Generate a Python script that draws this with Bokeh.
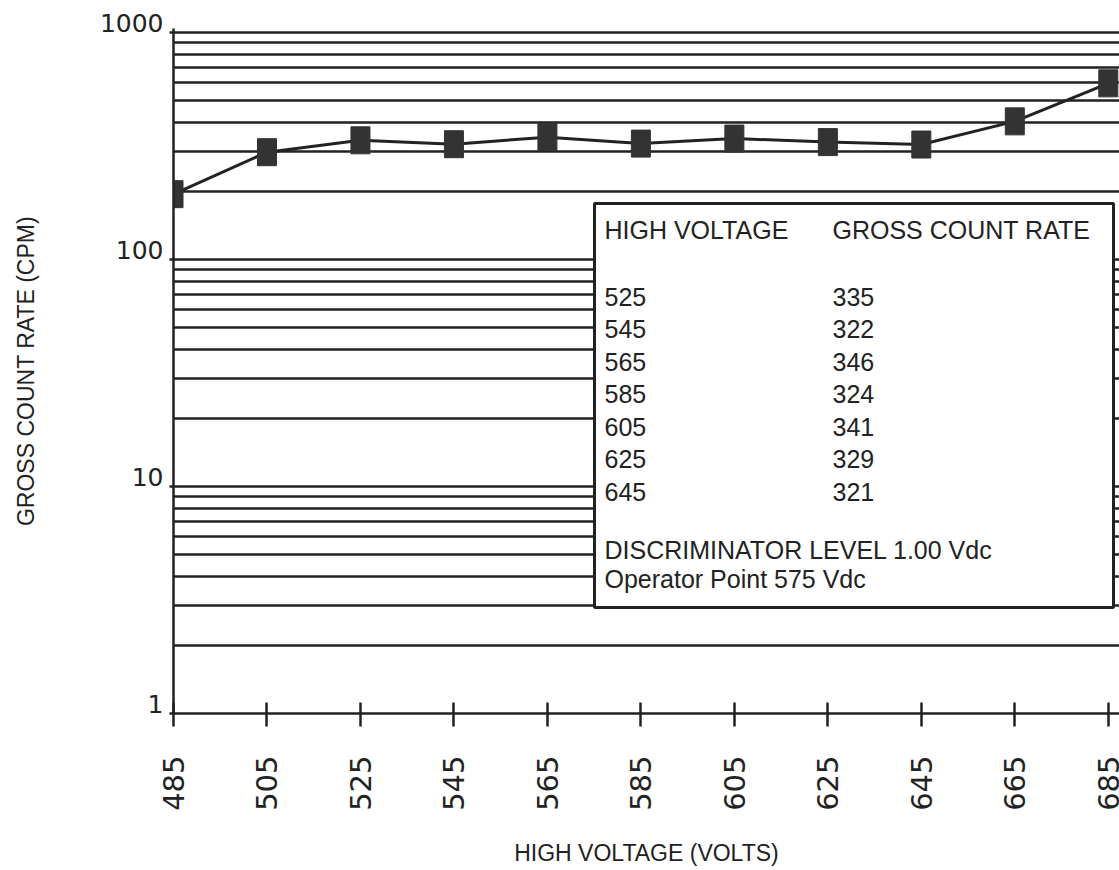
import math
from bokeh.plotting import figure
from bokeh.models import Range1d, FixedTicker, BoxAnnotation, ColumnDataSource
from bokeh.core.properties import value
from bokeh.embed import file_html
from bokeh.resources import INLINE

# ---- data ----
voltages = [485, 505, 525, 545, 565, 585, 605, 625, 645, 665, 685]
count_rates = [194, 297, 335, 322, 346, 324, 341, 329, 321, 406, 597]
table_voltages = [525, 545, 565, 585, 605, 625, 645]
table_rates = [335, 322, 346, 324, 341, 329, 321]
x_ticks = [485, 505, 525, 545, 565, 585, 605, 625, 645, 665, 685]
y_major = [1, 10, 100, 1000]
y_minor = [m * d for d in (1, 10, 100) for m in range(2, 10)]
header_left = "HIGH VOLTAGE"
header_right = "GROSS COUNT RATE"
note_lines = ["DISCRIMINATOR LEVEL 1.00 Vdc", "Operator Point 575 Vdc"]

FONT = "Liberation Sans"
TICKFONT = "DejaVu Sans"
INK = "#222222"

# geometry helpers (screen pixel -> data), frame: x 173..1119, y 28..713
PX_PER_DECADE = 227.0
PX_PER_VOLT = 946 / 202.4
def ydat(py):
    return 10 ** ((713 - py) / PX_PER_DECADE)
def xdat(px):
    return 485 + (px - 173) / PX_PER_VOLT

p = figure(
    y_axis_type="log",
    x_range=Range1d(485, 485 + 202.4),
    y_range=Range1d(1, 10 ** (3 + 4 / PX_PER_DECADE)),
    frame_width=946, frame_height=685,
    min_border_left=173, min_border_right=0, min_border_top=28, min_border_bottom=157,
    output_backend="svg", toolbar_location=None,
    background_fill_color="white", border_fill_color="white",
)
p.outline_line_color = None

# x axis
xa = p.xaxis[0]
xa.ticker = FixedTicker(ticks=x_ticks)
xa.axis_line_width = 2.5
xa.axis_line_color = INK
xa.major_tick_line_width = 2.5
xa.major_tick_line_color = INK
xa.major_tick_in = 11
xa.major_tick_out = 13
xa.minor_tick_line_color = None
xa.major_label_orientation = math.pi / 2
xa.major_label_text_font = TICKFONT
xa.major_label_text_font_size = "29px"
xa.major_label_text_color = INK
xa.major_label_standoff = 29
xa.axis_label = "HIGH VOLTAGE (VOLTS)"
xa.axis_label_text_font = FONT
xa.axis_label_text_font_style = "normal"
xa.axis_label_text_font_size = "23px"
xa.axis_label_text_color = INK
xa.axis_label_standoff = 26

# y axis
ya = p.yaxis[0]
yt = FixedTicker(ticks=y_major, minor_ticks=y_minor)
ya.ticker = yt
ya.axis_line_width = 2.5
ya.axis_line_color = INK
ya.major_tick_line_width = 2.5
ya.major_tick_line_color = INK
ya.major_tick_in = 0
ya.major_tick_out = 4
ya.minor_tick_line_color = None
ya.major_label_text_font = TICKFONT
ya.major_label_text_font_size = "25px"
ya.major_label_text_color = INK
ya.major_label_standoff = 6
ya.major_label_text_line_height = 0.6
ya.major_label_overrides = {1: "1\n", 10: "10\n", 100: "100\n", 1000: "1000\n"}
ya.axis_label = "GROSS COUNT RATE (CPM)"
ya.axis_label_text_font = FONT
ya.axis_label_text_font_style = "normal"
ya.axis_label_text_font_size = "23px"
ya.axis_label_text_color = INK
ya.axis_label_standoff = 58

# grids
p.xgrid.visible = False
p.ygrid.ticker = yt
p.ygrid.grid_line_color = INK
p.ygrid.grid_line_width = 2.3
p.ygrid.minor_grid_line_color = INK
p.ygrid.minor_grid_line_width = 2.3

# data
src = ColumnDataSource(dict(x=voltages, y=count_rates))
p.line("x", "y", source=src, line_color=INK, line_width=3)
p.rect("x", "y", width=19, height=27, width_units="screen", height_units="screen",
       source=src, fill_color="#333333", line_color="#333333")

# table box
box = BoxAnnotation(left=xdat(594), right=xdat(1113), top=ydat(203), bottom=ydat(607),
                    fill_color="white", fill_alpha=1.0, line_color=INK, line_alpha=1.0,
                    line_width=3, level="underlay")
p.add_layout(box)

def txt(xs, ys, texts):
    s = ColumnDataSource(dict(x=xs, y=ys, t=texts))
    p.text("x", "y", text="t", source=s, text_font=value(FONT), text_font_size="25px",
           text_color=INK, text_align="left", text_baseline="middle")

txt([xdat(604), xdat(832)], [ydat(229)] * 2, [header_left, header_right])
row_y = [ydat(296 + 32.5 * i) for i in range(len(table_voltages))]
txt([xdat(604)] * len(table_voltages), row_y, [str(v) for v in table_voltages])
txt([xdat(832)] * len(table_rates), row_y, [str(v) for v in table_rates])
txt([xdat(604)] * 2, [ydat(549), ydat(578)], note_lines)

open("out.html", "w").write(file_html(p, INLINE))
